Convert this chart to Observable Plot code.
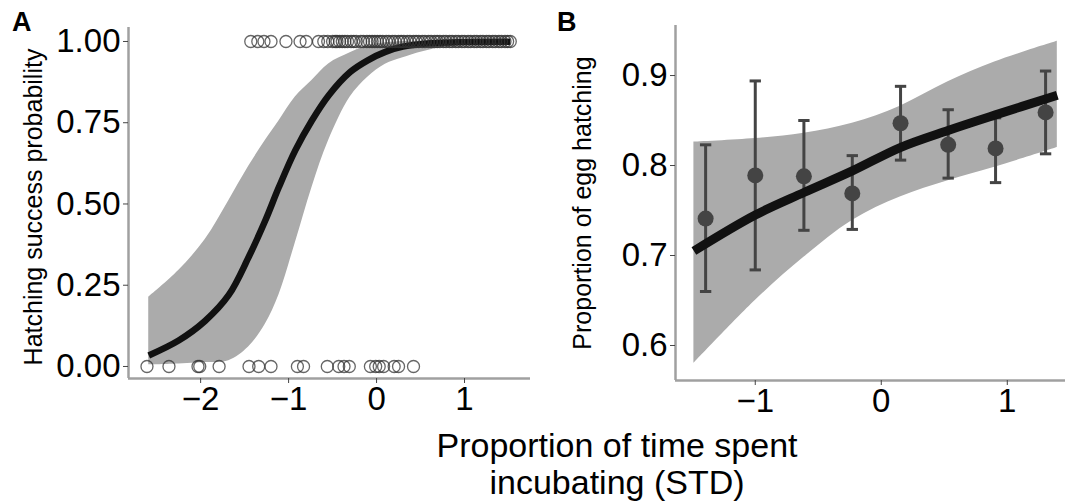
<!DOCTYPE html>
<html>
<head>
<meta charset="utf-8">
<script src="https://cdn.jsdelivr.net/npm/d3@7"></script>
<script src="https://cdn.jsdelivr.net/npm/@observablehq/plot@0.6"></script>
<style>
  html, body { margin: 0; padding: 0; background: #fff; }
  #wrap { position: relative; width: 1065px; height: 504px; font-family: "Liberation Sans", Arial, sans-serif; overflow: hidden; }
  .panel { position: absolute; top: 0; }
  .tag { position: absolute; font-weight: bold; font-size: 27px; line-height: 1; }
  #xlab { position: absolute; left: 367px; width: 500px; top: 427px; text-align: center; font-size: 34px; line-height: 37px; }
</style>
</head>
<body>
<div id="wrap">
  <div id="pa" class="panel" style="left:0px"></div>
  <div id="pb" class="panel" style="left:540px"></div>
  <div class="tag" style="left:12px; top:9px">A</div>
  <div class="tag" style="left:557px; top:9px">B</div>
  <div id="xlab">Proportion of time spent<br>incubating (STD)</div>
</div>
<script>
// ---------- Panel A data ----------
const aFitX   = [-2.59, -2.25, -1.95, -1.68, -1.455, -1.265, -1.11, -0.924, -0.735, -0.545, -0.3, -0.1, 0.1, 0.3, 0.65, 1.0, 1.52];
const aFitY   = [0.034, 0.08, 0.14, 0.22, 0.336, 0.449, 0.552, 0.665, 0.757, 0.834, 0.906, 0.942, 0.968, 0.984, 0.995, 0.998, 0.999];
const aUpper  = [0.213, 0.295, 0.39, 0.51, 0.615, 0.695, 0.755, 0.829, 0.88, 0.931, 0.965, 0.988, 0.996, 1.0, 1.0, 1.0, 1.0];
const aLower  = [0.005, 0.008, 0.012, 0.018, 0.06, 0.13, 0.22, 0.38, 0.55, 0.695, 0.829, 0.89, 0.93, 0.95, 0.977, 0.99, 0.995];
const aHatched = [-1.43, -1.35, -1.28, -1.20, -1.03, -0.87, -0.80, -0.66, -0.60, -0.555, -0.50, -0.45, -0.39, -0.33, -0.26, -0.18, -0.11, -0.05, 0.01,
  -0.47, -0.42, -0.36, -0.29, -0.23, -0.15, -0.08, -0.02,
  0.04, 0.07, 0.11, 0.14, 0.18, 0.21, 0.25, 0.28, 0.31, 0.35, 0.38, 0.42, 0.45, 0.48, 0.52, 0.55, 0.59, 0.62, 0.66, 0.69, 0.72,
  0.76, 0.79, 0.83, 0.86, 0.90, 0.93, 0.97, 1.00, 1.04, 1.07, 1.11, 1.14, 1.18, 1.21, 1.25, 1.28, 1.32, 1.35, 1.39, 1.42, 1.46, 1.49, 1.52];
const aFailed = [-2.61, -2.36, -2.03, -2.01, -1.79, -1.45, -1.34, -1.20, -0.90, -0.83, -0.56, -0.43, -0.37, -0.31, -0.07, -0.01, 0.03, 0.08, 0.20, 0.25, 0.42];
const aYTicks = [0, 0.25, 0.5, 0.75, 1];
const aXTicks = [-2, -1, 0, 1];

// ---------- Panel B data ----------
const bBinX   = [-1.394, -1.0, -0.614, -0.23, 0.153, 0.531, 0.907, 1.304];
const bMean   = [0.741, 0.789, 0.788, 0.769, 0.847, 0.823, 0.819, 0.859];
const bHigh   = [0.823, 0.894, 0.850, 0.811, 0.888, 0.862, 0.853, 0.905];
const bLow    = [0.660, 0.684, 0.728, 0.729, 0.806, 0.786, 0.781, 0.813];
const bFitX   = [-1.487, -1.0, -0.614, -0.23, 0.15, 0.53, 0.9, 1.397];
const bFitY   = [0.705, 0.745, 0.770, 0.794, 0.820, 0.839, 0.856, 0.878];
const bUpper  = [0.826, 0.830, 0.836, 0.847, 0.866, 0.893, 0.915, 0.938];
const bLower  = [0.580, 0.650, 0.698, 0.739, 0.765, 0.783, 0.798, 0.820];
const bYTicks = [0.6, 0.7, 0.8, 0.9];
const bXTicks = [-1, 0, 1];

const fitA = aFitX.map((x, i) => ({x, y: aFitY[i], lo: aLower[i], hi: aUpper[i]}));
const ptsA = [...aHatched.map(x => ({x, y: 1})), ...aFailed.map(x => ({x, y: 0}))];
const fitB = bFitX.map((x, i) => ({x, y: bFitY[i], lo: bLower[i], hi: bUpper[i]}));
const binsB = bBinX.map((x, i) => ({x, y: bMean[i], lo: bLow[i], hi: bHigh[i]}));

const BAND = "#ababab", AXIS = "#a0a0a0", FONT = "Liberation Sans, Arial, sans-serif";
const capW = 0.045;
const intFmt = d3.format("d");

const A = Plot.plot({
  width: 540, height: 420,
  marginLeft: 128, marginRight: 10, marginTop: 27, marginBottom: 42,
  style: {fontFamily: FONT, fontSize: "33px", background: "transparent", color: "black", overflow: "visible"},
  x: {domain: [-2.82, 1.75]},
  y: {domain: [-0.037, 1.043]},
  marks: [
    Plot.areaY(fitA, {x: "x", y1: "lo", y2: "hi", fill: BAND, curve: "catmull-rom"}),
    Plot.line(fitA, {x: "x", y: "y", stroke: "#111", strokeWidth: 6.5, curve: "catmull-rom", strokeLinecap: "butt"}),
    Plot.dot(ptsA, {x: "x", y: "y", r: 6, stroke: "#333", strokeOpacity: 0.75, strokeWidth: 1.3, fill: "none"}),
    Plot.ruleX([-2.82], {stroke: AXIS, strokeWidth: 2.5}),
    Plot.ruleY([-0.037], {stroke: AXIS, strokeWidth: 2.5}),
    Plot.axisY({ticks: aYTicks, tickFormat: d3.format(".2f"), tickSize: 5, tickPadding: 3, stroke: "#444", label: null}),
    Plot.axisX({ticks: aXTicks, tickFormat: intFmt, tickSize: 5, tickPadding: 3, stroke: "#444", label: null}),
    Plot.text(["Hatching success probability"], {frameAnchor: "left", textAnchor: "middle", rotate: -90, dx: -95, dy: 4, fontSize: 25, fill: "black"})
  ]
});
document.getElementById("pa").appendChild(A);

const B = Plot.plot({
  width: 525, height: 420,
  marginLeft: 135, marginRight: 0, marginTop: 25, marginBottom: 40,
  style: {fontFamily: FONT, fontSize: "33px", background: "transparent", color: "black", overflow: "visible"},
  x: {domain: [-1.633, 1.462]},
  y: {domain: [0.5611, 0.9556]},
  marks: [
    Plot.areaY(fitB, {x: "x", y1: "lo", y2: "hi", fill: BAND, curve: "catmull-rom"}),
    Plot.ruleX(binsB, {x: "x", y1: "lo", y2: "hi", stroke: "#444", strokeWidth: 3}),
    Plot.link(binsB, {x1: d => d.x - capW, x2: d => d.x + capW, y1: "hi", y2: "hi", stroke: "#444", strokeWidth: 3}),
    Plot.link(binsB, {x1: d => d.x - capW, x2: d => d.x + capW, y1: "lo", y2: "lo", stroke: "#444", strokeWidth: 3}),
    Plot.line(fitB, {x: "x", y: "y", stroke: "#111", strokeWidth: 9, curve: "catmull-rom", strokeLinecap: "butt"}),
    Plot.dot(binsB, {x: "x", y: "y", r: 8, fill: "#444", stroke: "none"}),
    Plot.ruleX([-1.633], {stroke: AXIS, strokeWidth: 2.5}),
    Plot.ruleY([0.5611], {stroke: AXIS, strokeWidth: 2.5}),
    Plot.axisY({ticks: bYTicks, tickFormat: d3.format(".1f"), tickSize: 5, tickPadding: 3, stroke: "#444", label: null}),
    Plot.axisX({ticks: bXTicks, tickFormat: intFmt, tickSize: 5, tickPadding: 3, stroke: "#444", label: null}),
    Plot.text(["Proportion of egg hatching"], {frameAnchor: "left", textAnchor: "middle", rotate: -90, dx: -93, fontSize: 25, fill: "black"})
  ]
});
document.getElementById("pb").appendChild(B);
</script>
</body>
</html>
